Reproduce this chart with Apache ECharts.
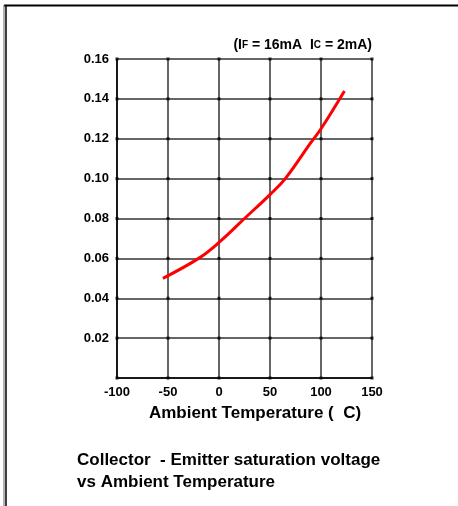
<!DOCTYPE html>
<html>
<head>
<meta charset="utf-8">
<script src="https://cdn.jsdelivr.net/npm/echarts@6/dist/echarts.min.js"></script>
<style>
  html, body { margin: 0; padding: 0; background: #fff; }
  #chart { width: 458px; height: 506px; }
</style>
</head>
<body>
<div id="chart"></div>
<script>
// Ambient temperature (C) vs collector-emitter saturation voltage (V)
const temps = [-55, -20, 0, 25, 50, 65, 90, 100, 123]
const vceSat = [0.050, 0.060, 0.068, 0.080, 0.092, 0.100, 0.118, 0.125, 0.144]
const xTicks = [-100, -50, 0, 50, 100, 150]
const yTicks = [0, 0.02, 0.04, 0.06, 0.08, 0.10, 0.12, 0.14, 0.16]

const font = 'Liberation Sans, Arial, sans-serif'

// little dots where grid lines cross
const crossings = []
xTicks.forEach(x => yTicks.forEach(y => crossings.push([x, y])))

const chart = echarts.init(document.getElementById('chart'))
chart.setOption({
  animation: false,
  grid: { left: 117, right: 86, top: 59, bottom: 128 },
  xAxis: {
    type: 'value',
    min: -100,
    max: 150,
    interval: 50,
    axisLine: { show: true, onZero: false, lineStyle: { color: '#000', width: 1.5 } },
    axisTick: { show: false },
    axisLabel: { color: '#000', fontFamily: font, fontWeight: 'bold', fontSize: 13, margin: 8 },
    splitLine: { show: true, lineStyle: { color: '#333', width: 1.5 } }
  },
  yAxis: {
    type: 'value',
    min: 0,
    max: 0.16,
    interval: 0.02,
    axisLine: { show: true, onZero: false, lineStyle: { color: '#000', width: 1.5 } },
    axisTick: { show: false },
    axisLabel: {
      color: '#000', fontFamily: font, fontWeight: 'bold', fontSize: 13, margin: 8,
      formatter: v => (v === 0 ? '' : v.toFixed(2))
    },
    splitLine: { show: true, lineStyle: { color: '#333', width: 1.5 } }
  },
  series: [
    {
      type: 'scatter',
      data: crossings,
      symbol: 'rect',
      symbolSize: 3,
      itemStyle: { color: '#000' },
      silent: true
    },
    {
      type: 'line',
      data: temps.map((t, i) => [t, vceSat[i]]),
      smooth: 0.4,
      showSymbol: false,
      lineStyle: { color: '#ff0000', width: 3 }
    }
  ],
  graphic: [
    // page frame (top + left edges)
    { type: 'line', shape: { x1: 4, y1: 5.5, x2: 458, y2: 5.5 }, style: { stroke: '#000', lineWidth: 2 } },
    { type: 'line', shape: { x1: 4, y1: 5, x2: 4, y2: 506 }, style: { stroke: '#666', lineWidth: 1 } },
    { type: 'line', shape: { x1: 6, y1: 5, x2: 6, y2: 506 }, style: { stroke: '#000', lineWidth: 1.5 } },
    {
      type: 'text',
      right: 86,
      top: 38,
      style: {
        text: '(I{s|F} = 16mA  I{s|C} = 2mA)',
        fill: '#000',
        font: 'bold 14px ' + font,
        rich: { s: { fontSize: 10, fontWeight: 'bold', fontFamily: font, fill: '#000' } }
      }
    },
    {
      type: 'text',
      x: 255,
      y: 413,
      style: {
        text: 'Ambient Temperature (  C)',
        fill: '#000',
        font: 'bold 17px ' + font,
        align: 'center',
        verticalAlign: 'middle'
      }
    },
    {
      type: 'text',
      x: 77,
      y: 449,
      style: {
        text: 'Collector  - Emitter saturation voltage\nvs Ambient Temperature',
        fill: '#000',
        font: 'bold 17px ' + font,
        lineHeight: 22
      }
    }
  ]
})
</script>
</body>
</html>
